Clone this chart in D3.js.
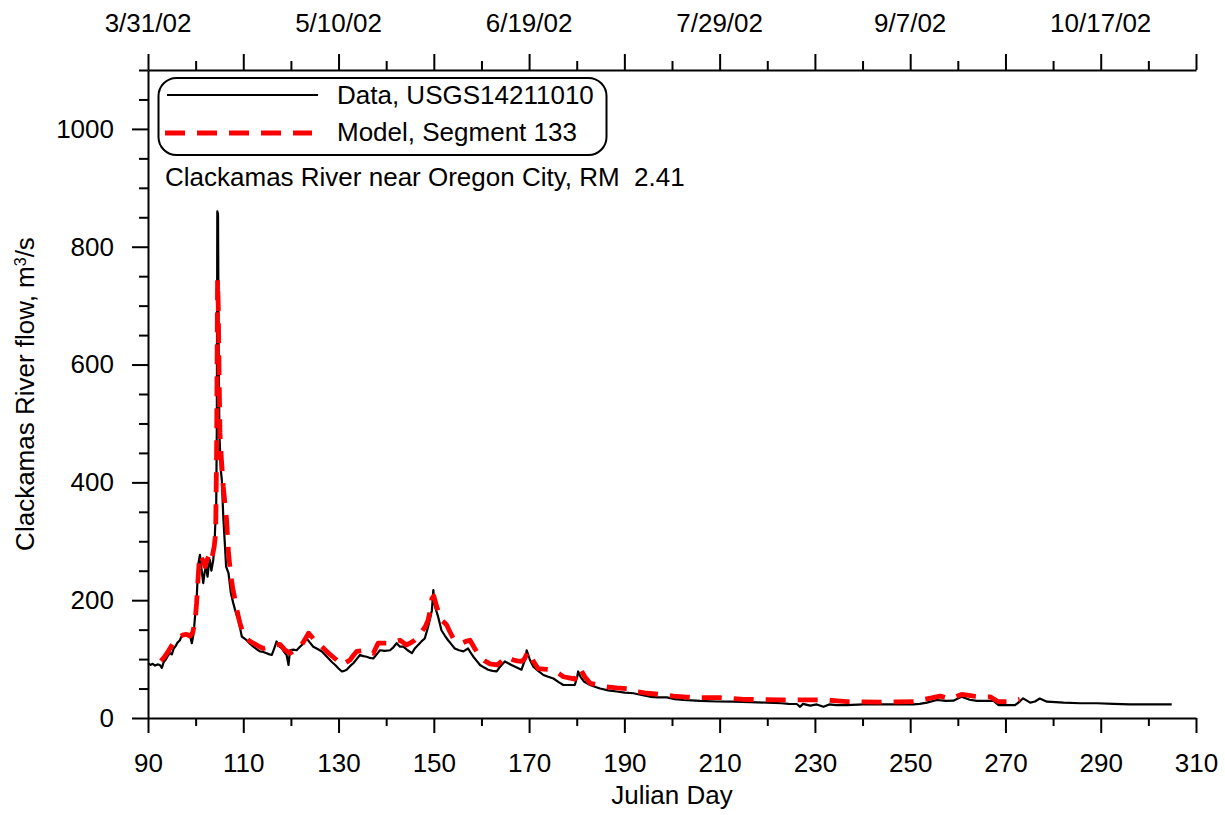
<!DOCTYPE html>
<html>
<head>
<meta charset="utf-8">
<script src="https://cdn.jsdelivr.net/npm/d3@7"></script>
<style>
  html, body { margin: 0; padding: 0; background: #fff; }
  svg { display: block; }
  text { font-family: "Liberation Sans", Arial, sans-serif; fill: #000; }
</style>
</head>
<body>
<svg id="chart" width="1225" height="815"></svg>
<script>
// ---- Data ----
const obsDay = [90.0,90.5,91.0,91.5,92.0,92.5,92.9,93.3,93.8,94.2,94.6,95.0,95.4,95.8,96.2,96.7,97.0,97.4,97.9,98.4,98.8,99.2,99.5,99.7,100.0,100.2,100.4,100.6,100.9,101.2,101.6,101.9,102.2,102.5,102.8,103.0,103.3,103.7,104.0,104.1,104.3,104.45,104.55,104.7,104.85,105.0,105.3,105.5,105.8,106.1,106.4,106.9,107.4,107.9,108.3,108.7,109.0,109.4,109.7,110.2,110.7,111.4,112.1,112.8,113.5,114.2,114.9,115.5,116.0,116.5,117.0,117.5,118.1,118.6,119.1,119.5,119.8,120.5,121.2,121.8,122.3,122.8,123.3,124.0,124.7,125.6,126.5,127.2,127.9,128.6,129.3,130.0,130.7,131.2,131.7,132.4,133.1,133.8,134.5,135.2,135.9,136.6,137.3,138.0,138.7,139.7,140.8,141.5,142.2,142.9,143.6,144.5,145.4,146.0,146.7,147.4,148.1,148.8,149.3,149.6,149.9,150.1,150.4,150.9,151.6,152.3,153.0,153.7,154.4,155.3,156.2,157.2,157.8,158.3,159.0,159.7,160.5,161.4,162.3,163.2,164.0,164.9,165.6,166.3,167.3,168.4,169.2,169.5,170.2,170.9,171.9,173.0,174.0,175.1,176.2,177.2,178.4,179.6,180.1,180.3,180.8,181.5,182.8,183.8,184.9,186.6,188.4,190.1,191.9,193.6,195.4,197.1,198.9,200.6,202.4,204.1,205.9,209.4,212.9,216.4,219.9,223.0,224.5,226.2,226.9,227.5,229.0,230.4,231.8,233.0,234.5,236.7,240.2,243.7,247.2,250.7,252.0,253.5,255.6,257.5,259.1,260.0,260.8,262.5,264.0,265.8,267.5,268.5,270.2,272.0,273.0,273.7,275.2,276.2,277.2,278.7,280.5,282.2,285.7,289.2,292.7,296.1,300.5,304.9];
const obsFlow = [93,90,92,89,91,90,85,95,100,106,110,108,118,122,128,132,138,141,143,140,141,127,140,155,185,200,235,263,277,255,229,248,257,240,262,268,250,268,300,325,340,500,860,855,600,480,420,404,342,300,257,246,212,195,183,172,166,150,138,135,132,126,121,117,113,112,110,108,107,118,130,122,118,112,107,90,115,116,115,120,124,130,135,128,121,117,113,107,101,95,90,84,79,80,82,88,93,100,107,105,104,102,101,108,115,114,115,120,127,121,121,115,110,118,124,130,135,155,172,183,217,195,185,172,149,140,132,125,118,115,113,118,110,104,97,90,86,82,80,79,88,96,93,90,86,82,100,115,98,87,80,73,70,67,61,56,56,56,70,79,70,62,56,53,50,47,45,43,42,39,36,35,35,32,30.6,30,29,28,27.7,27,26,25,24,23.8,19,24,21,23,19,23,22,22,23,23,23,23,24,26,30.6,29,29.4,33,36,31,29,29,29,22,22,22,28,33.4,26,28,33,27.7,27,26,25,25,24,23,23,23];

const modelDay = [92.7,93.3,94.0,94.6,95.3,96.0,96.7,97.4,98.1,98.8,99.4,99.9,100.2,100.4,100.7,100.9,101.2,101.5,102.0,102.4,102.7,103.1,103.5,103.9,104.2,104.4,104.6,104.75,104.9,105.1,105.4,105.8,106.2,106.5,106.9,107.4,107.8,108.3,108.8,109.3,109.8,110.2,111.1,112.1,113.2,114.2,115.2,116.3,117.0,117.7,118.7,119.8,120.9,122.0,122.9,123.7,124.9,126.1,127.0,127.9,128.8,129.6,130.7,131.5,132.4,133.1,133.8,134.8,135.9,136.6,137.3,138.3,139.5,140.8,141.9,142.9,143.6,144.3,145.2,146.0,146.4,147.5,148.2,148.8,149.3,149.6,150.0,150.3,150.6,151.1,151.6,152.2,152.7,153.4,154.1,155.0,155.8,156.7,157.6,158.6,159.7,160.7,161.8,162.5,163.3,164.3,165.3,166.0,166.7,167.5,168.4,169.0,169.8,170.4,170.9,171.9,173.1,174.4,175.8,176.5,177.2,178.4,179.6,180.2,180.7,181.2,181.7,182.8,184.5,186.3,188.4,190.5,191.9,193.3,194.7,197.5,200.3,203.1,205.9,210.1,212.5,215.0,219.9,222.7,225.0,229.0,232.5,234.6,236.7,240.2,243.7,247.2,250.7,252.8,254.5,256.3,258.4,259.6,260.8,262.0,263.3,265.0,266.8,268.5,271.0,273.0];
const modelFlow = [97,102,110,118,127,133,138,141,142,139,145,166,195,223,260,277,272,268,257,268,274,265,275,291,314,450,744,700,600,484,440,393,360,336,280,240,220,200,178,161,148,138,132,127,122,118,120,121,124,125,116,110,116,121,133,144,133,124,117,110,104,98.5,90,94,98.5,106,113,114,115,112,110,127,127,127,130,132,128,124,128,132,135,147,155,166,185,203,207,198,189,178,166,162,158,146,135,131,127,130,132,118,104,97,92,91,90,97,104,101,98.5,97,96,100,113,104,96,84,83,82,78,74,70,68,66,75,84,77,70,59,56,53,51,50,45,44,42,40,37,35.5,34.5,34.5,33,31.7,31,30.6,30.6,30.6,30.6,29,27.7,27.5,27,27.5,27.7,31.7,34,37,33,36,40,39,37,36,36,27.7,27.7,31.7];

const xTicksMajor = [90,110,130,150,170,190,210,230,250,270,290,310];
const xTicksMinor = [100,120,140,160,180,200,220,240,260,280,300];
const yTicksMajor = [0,200,400,600,800,1000];
const yTicksMinor = [50,100,150,250,300,350,450,500,550,650,700,750,850,900,950,1050,1100];
const dateTickDays = [90,130,170,210,250,290];
const dateTickLabels = ["3/31/02","5/10/02","6/19/02","7/29/02","9/7/02","10/17/02"];

const seriesNames = ["Data, USGS14211010","Model, Segment 133"];
const stationLabel = "Clackamas River near Oregon City, RM\u00a0\u00a02.41";
const xTitle = "Julian Day";

// ---- Layout ----
const svg = d3.select("#chart");
const L = 148, R = 1196, T = 70, B = 718;
const x = d3.scaleLinear().domain([90, 310]).range([L, R]);
const y = d3.scaleLinear().domain([0, 1100]).range([B, T]);
const FS = 26;

function styleAxis(g) {
  g.selectAll("path.domain").attr("stroke", "#000").attr("stroke-width", 2);
  g.selectAll(".tick line").attr("stroke", "#000").attr("stroke-width", 2);
  g.selectAll("text").attr("font-size", FS).attr("font-family", '"Liberation Sans", Arial, sans-serif').attr("fill", "#000");
}

// bottom axis
const gB = svg.append("g").attr("transform", `translate(0,${B})`);
gB.call(d3.axisBottom(x).tickValues(xTicksMajor).tickSize(15).tickSizeOuter(0).tickPadding(21).tickFormat(d3.format("d")));
gB.append("g").call(d3.axisBottom(x).tickValues(xTicksMinor).tickSize(8).tickFormat("")).select("path.domain").remove();
styleAxis(gB);

// top axis
const gT = svg.append("g").attr("transform", `translate(0,${T})`);
gT.call(d3.axisTop(x).tickValues(xTicksMajor).tickSize(16).tickSizeOuter(0).tickFormat(""));
gT.append("g").call(d3.axisTop(x).tickValues(xTicksMinor).tickSize(9).tickFormat("")).select("path.domain").remove();
styleAxis(gT);
gT.append("g").selectAll("text.date").data(dateTickDays).join("text")
  .attr("x", d => x(d)).attr("y", 32 - T)
  .attr("text-anchor", "middle").attr("font-size", FS)
  .text((d, i) => dateTickLabels[i]);

// left axis
const gL = svg.append("g").attr("transform", `translate(${L},0)`);
gL.call(d3.axisLeft(y).tickValues(yTicksMajor).tickSize(16).tickSizeOuter(0).tickPadding(18).tickFormat(d3.format("d")));
gL.append("g").call(d3.axisLeft(y).tickValues(yTicksMinor).tickSize(9).tickFormat("")).select("path.domain").remove();
styleAxis(gL);

// axis titles
svg.append("text").attr("x", (L + R) / 2).attr("y", 804)
  .attr("text-anchor", "middle").attr("font-size", FS).text(xTitle);
const yt = svg.append("text").attr("transform", `translate(34,${(T + B) / 2}) rotate(-90)`)
  .attr("text-anchor", "middle").attr("font-size", FS);
yt.append("tspan").text("Clackamas River flow, m");
yt.append("tspan").attr("font-size", 16).attr("baseline-shift", "super").text("3");
yt.append("tspan").text("/s");

// lines
const obs = obsDay.map((d, i) => [d, obsFlow[i]]);
const mod = modelDay.map((d, i) => [d, modelFlow[i]]);
const line = d3.line().x(d => x(d[0])).y(d => y(d[1]));
svg.append("path").datum(obs).attr("d", line)
  .attr("fill", "none").attr("stroke", "#000").attr("stroke-width", 2.2).attr("stroke-linejoin", "round");
svg.append("path").datum(mod).attr("d", line)
  .attr("fill", "none").attr("stroke", "#ff0000").attr("stroke-width", 4.8)
  .attr("stroke-dasharray", "20,12").attr("stroke-linejoin", "round");

// legend
const lg = svg.append("g");
lg.append("rect").attr("x", 158.5).attr("y", 78).attr("width", 448).attr("height", 77)
  .attr("rx", 18).attr("ry", 18).attr("fill", "#fff").attr("stroke", "#000").attr("stroke-width", 2);
lg.append("line").attr("x1", 167).attr("x2", 318).attr("y1", 95).attr("y2", 95)
  .attr("stroke", "#000").attr("stroke-width", 2);
lg.append("line").attr("x1", 165).attr("x2", 312).attr("y1", 133).attr("y2", 133)
  .attr("stroke", "#ff0000").attr("stroke-width", 4.8).attr("stroke-dasharray", "20,12");
lg.selectAll("text.lab").data(seriesNames).join("text")
  .attr("x", 337).attr("y", (d, i) => i === 0 ? 104 : 141)
  .attr("font-size", FS).text(d => d);
svg.append("text").attr("x", 165).attr("y", 186).attr("font-size", FS).text(stationLabel);
</script>
</body>
</html>
